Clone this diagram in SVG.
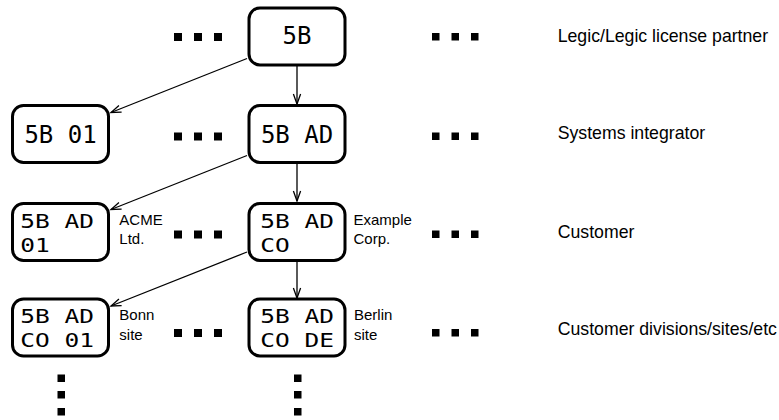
<svg xmlns="http://www.w3.org/2000/svg" width="779" height="420" viewBox="0 0 779 420">
<style>
.box{fill:#fff;stroke:#000;stroke-width:3}
.code{font-family:"DejaVu Sans Mono",monospace;font-size:24px;fill:#000}
.code2{font-family:"DejaVu Sans Mono",monospace;font-size:24.5px;fill:#000}
.lbl{font-family:"Liberation Sans",Arial,sans-serif;font-size:15px;fill:#000}
.lvl{font-family:"Liberation Sans",Arial,sans-serif;font-size:17.7px;fill:#000}
.con{stroke:#000;stroke-width:1.3;fill:none}
.dot{fill:#000}
</style>
<defs>
<marker id="arr" markerUnits="userSpaceOnUse" markerWidth="14" markerHeight="10" viewBox="0 0 14 10" refX="12" refY="5" orient="auto">
<path d="M2,1.4 L12,5 L2,8.6" fill="none" stroke="#000" stroke-width="1.3"/>
</marker>
</defs>
<g id="connectors">
<line class="con" x1="297" y1="66" x2="297" y2="104" marker-end="url(#arr)"/>
<line class="con" x1="297" y1="163" x2="297" y2="201" marker-end="url(#arr)"/>
<line class="con" x1="297" y1="260" x2="297" y2="298" marker-end="url(#arr)"/>
<line class="con" x1="247" y1="58.5" x2="111" y2="112.5" marker-end="url(#arr)"/>
<line class="con" x1="247" y1="155.5" x2="111" y2="209.5" marker-end="url(#arr)"/>
<line class="con" x1="247" y1="252" x2="111" y2="306" marker-end="url(#arr)"/>
</g>
<g id="n5B">
<rect class="box" x="249" y="8" width="96" height="57" rx="11"/>
<text class="code" x="297" y="44.3" text-anchor="middle">5B</text>
</g>
<g id="n5B01">
<rect class="box" x="12.5" y="105.5" width="96" height="57" rx="11"/>
<text class="code" x="60.5" y="142.7" text-anchor="middle">5B 01</text>
</g>
<g id="n5BAD">
<rect class="box" x="249" y="105.5" width="96" height="57" rx="11"/>
<text class="code" x="297" y="142.7" text-anchor="middle">5B AD</text>
</g>
<g id="n5BAD01">
<rect class="box" x="12.5" y="203.5" width="96" height="57" rx="11"/>
<text class="code2" transform="translate(20.3,227.7) scale(1,0.82)">5B AD</text>
<text class="code2" transform="translate(20.3,251.7) scale(1,0.82)">01</text>
<text class="lbl" x="119.3" y="225">ACME</text>
<text class="lbl" x="119.3" y="244.3">Ltd.</text>
</g>
<g id="n5BADCO">
<rect class="box" x="249" y="203.5" width="96" height="57" rx="11"/>
<text class="code2" transform="translate(260.3,227.7) scale(1,0.82)">5B AD</text>
<text class="code2" transform="translate(260.3,251.7) scale(1,0.82)">CO</text>
<text class="lbl" x="353.5" y="225">Example</text>
<text class="lbl" x="353.5" y="244.3">Corp.</text>
</g>
<g id="n5BADCO01">
<rect class="box" x="12.5" y="299" width="96" height="57" rx="11"/>
<text class="code2" transform="translate(20.3,323.3) scale(1,0.82)">5B AD</text>
<text class="code2" transform="translate(20.3,347.3) scale(1,0.82)">CO 01</text>
<text class="lbl" x="119.3" y="320">Bonn</text>
<text class="lbl" x="119.3" y="340">site</text>
</g>
<g id="n5BADCODE">
<rect class="box" x="249" y="299" width="96" height="57" rx="11"/>
<text class="code2" transform="translate(260.3,323.3) scale(1,0.82)">5B AD</text>
<text class="code2" transform="translate(260.3,347.3) scale(1,0.82)">CO DE</text>
<text class="lbl" x="354" y="320">Berlin</text>
<text class="lbl" x="354" y="340">site</text>
</g>
<g id="dots">
<rect class="dot" x="174" y="33" width="8" height="8"/>
<rect class="dot" x="194" y="33" width="8" height="8"/>
<rect class="dot" x="214" y="33" width="8" height="8"/>
<rect class="dot" x="432" y="33" width="7.5" height="7.5"/>
<rect class="dot" x="451.5" y="33" width="7.5" height="7.5"/>
<rect class="dot" x="471" y="33" width="7.5" height="7.5"/>
<rect class="dot" x="174" y="132.5" width="8" height="8"/>
<rect class="dot" x="194" y="132.5" width="8" height="8"/>
<rect class="dot" x="214" y="132.5" width="8" height="8"/>
<rect class="dot" x="432" y="132.5" width="7.5" height="7.5"/>
<rect class="dot" x="451.5" y="132.5" width="7.5" height="7.5"/>
<rect class="dot" x="471" y="132.5" width="7.5" height="7.5"/>
<rect class="dot" x="174" y="230.5" width="8" height="8"/>
<rect class="dot" x="194" y="230.5" width="8" height="8"/>
<rect class="dot" x="214" y="230.5" width="8" height="8"/>
<rect class="dot" x="432" y="230.5" width="7.5" height="7.5"/>
<rect class="dot" x="451.5" y="230.5" width="7.5" height="7.5"/>
<rect class="dot" x="471" y="230.5" width="7.5" height="7.5"/>
<rect class="dot" x="174" y="329" width="8" height="8"/>
<rect class="dot" x="194" y="329" width="8" height="8"/>
<rect class="dot" x="214" y="329" width="8" height="8"/>
<rect class="dot" x="432" y="329" width="7.5" height="7.5"/>
<rect class="dot" x="451.5" y="329" width="7.5" height="7.5"/>
<rect class="dot" x="471" y="329" width="7.5" height="7.5"/>
<rect class="dot" x="57.5" y="374.5" width="7.5" height="7.5"/>
<rect class="dot" x="57.5" y="391" width="7.5" height="7.5"/>
<rect class="dot" x="57.5" y="408" width="7.5" height="7.5"/>
<rect class="dot" x="294" y="374.5" width="7.5" height="7.5"/>
<rect class="dot" x="294" y="391" width="7.5" height="7.5"/>
<rect class="dot" x="294" y="408" width="7.5" height="7.5"/>
</g>
<g id="levels">
<text class="lvl" x="557.7" y="42.3">Legic/Legic license partner</text>
<text class="lvl" x="557.7" y="139.3">Systems integrator</text>
<text class="lvl" x="557.7" y="238.3">Customer</text>
<text class="lvl" x="557.7" y="335">Customer divisions/sites/etc</text>
</g>
</svg>
